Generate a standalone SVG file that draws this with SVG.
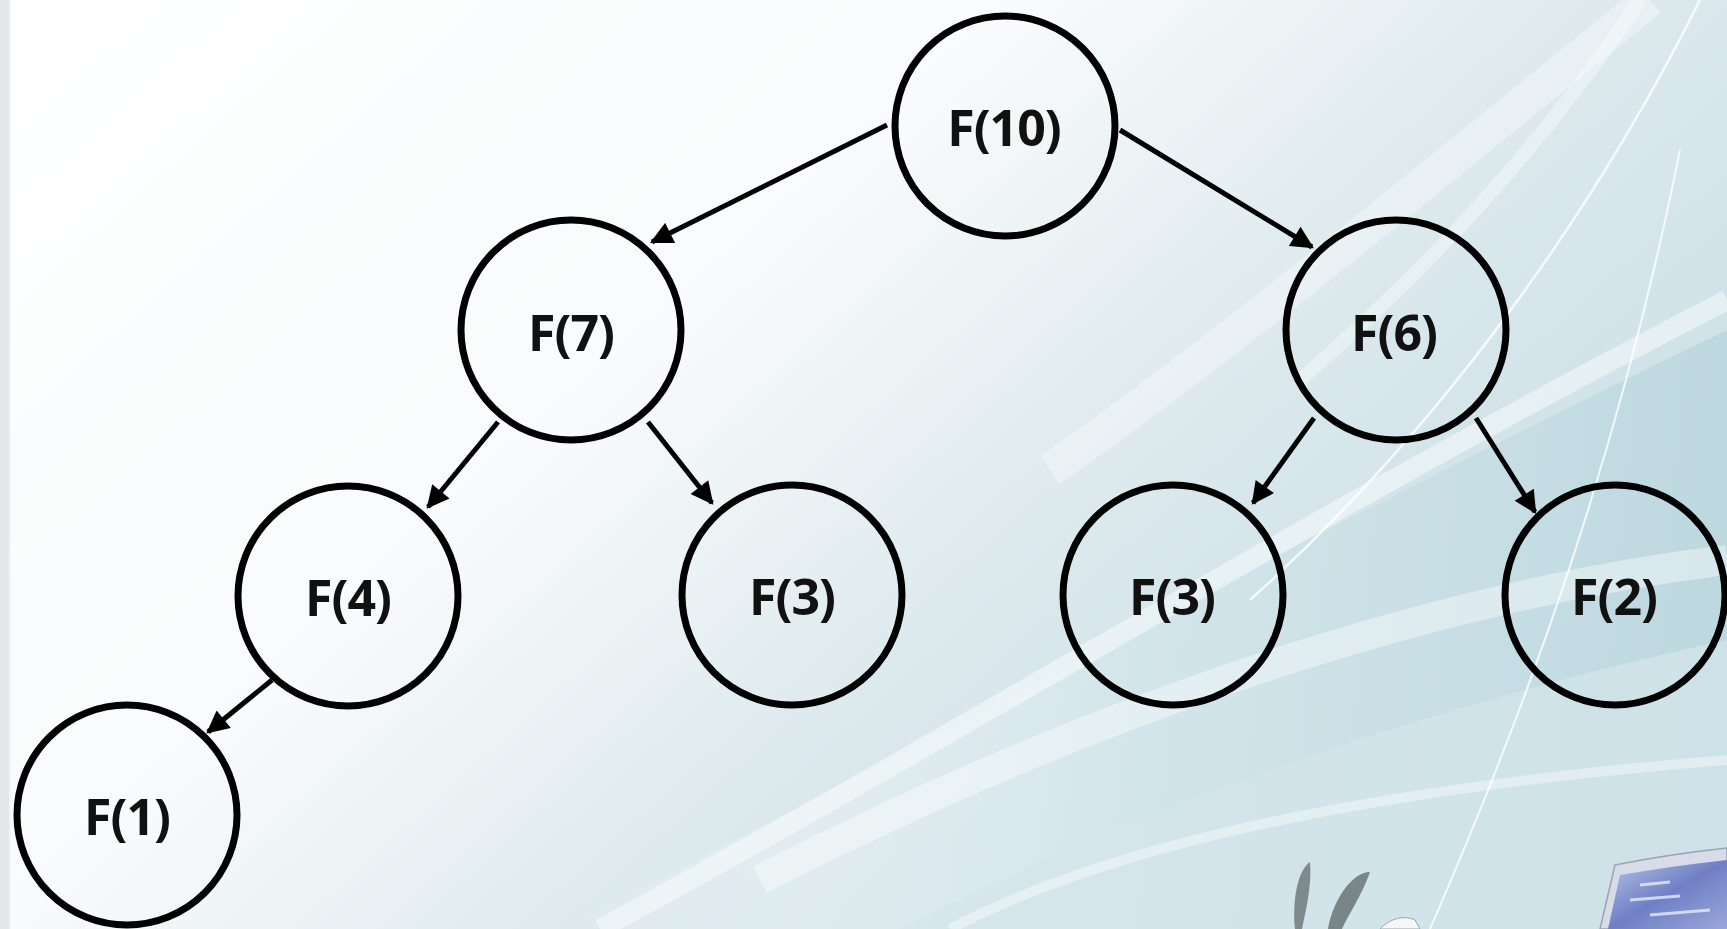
<svg xmlns="http://www.w3.org/2000/svg" width="1727" height="929" viewBox="0 0 1727 929">
  <defs>
    <linearGradient id="bg" x1="0" y1="0" x2="1" y2="0.6">
      <stop offset="0" stop-color="#ffffff"/>
      <stop offset="0.45" stop-color="#f8fafb"/>
      <stop offset="0.7" stop-color="#dce9ed"/>
      <stop offset="1" stop-color="#c9dfe5"/>
    </linearGradient>
    <linearGradient id="band" x1="0" y1="0" x2="1" y2="0">
      <stop offset="0" stop-color="#ffffff" stop-opacity="0"/>
      <stop offset="0.5" stop-color="#d2e5ea" stop-opacity="0.8"/>
      <stop offset="1" stop-color="#bcd7df" stop-opacity="0.9"/>
    </linearGradient>
    <linearGradient id="screen" x1="0" y1="0" x2="1" y2="1">
      <stop offset="0" stop-color="#b8c4ea"/>
      <stop offset="0.5" stop-color="#6f7fc4"/>
      <stop offset="1" stop-color="#9aa8dc"/>
    </linearGradient>
    <marker id="arrow" viewBox="0 0 10 10" refX="9" refY="5" markerWidth="5" markerHeight="4.5" markerUnits="strokeWidth" orient="auto">
      <path d="M0,0 L10,5 L0,10 z" fill="#000"/>
    </marker>
    <style>
      .node circle { fill: none; stroke: #000; stroke-width: 7; }
      .node text { font-family: "Open Sans", Lato, "Liberation Sans", sans-serif; font-weight: 700; font-size: 50px; text-anchor: middle; fill: #111; letter-spacing: -1px; }
      .edge { stroke: #000; stroke-width: 5; fill: none; marker-end: url(#arrow); }
      .swoosh { fill: none; stroke: #ffffff; }
    </style>
  </defs>

  <g id="background">
    <rect x="0" y="0" width="1727" height="929" fill="url(#bg)"/>
    <path d="M560,929 C900,760 1250,560 1727,330 L1727,929 Z" fill="url(#band)"/>
    <path d="M900,929 C1150,800 1450,700 1727,640 L1727,929 Z" fill="#d4e6eb" opacity="0.7"/>
    <path class="swoosh" d="M600,929 C950,740 1300,520 1727,300" stroke-width="20" opacity="0.45"/>
    <path class="swoosh" d="M760,880 C1050,730 1400,600 1727,560" stroke-width="30" opacity="0.4"/>
    <path class="swoosh" d="M1050,470 C1250,330 1450,160 1650,0" stroke-width="34" opacity="0.35"/>
    <path class="swoosh" d="M1250,600 C1450,420 1600,200 1700,0" stroke-width="2.5" opacity="0.8"/>
    <path class="swoosh" d="M1430,929 C1530,700 1620,450 1680,150" stroke-width="2" opacity="0.8"/>
    <path class="swoosh" d="M1300,380 C1450,250 1560,120 1640,0" stroke-width="14" opacity="0.35"/>
    <path class="swoosh" d="M950,929 C1100,850 1350,790 1727,760" stroke-width="10" opacity="0.4"/>
    <rect x="0" y="0" width="9" height="929" fill="#e4e6e8"/>
    <rect x="9" y="0" width="2" height="929" fill="#f3f4f5"/>
    <!-- feathers -->
    <path d="M1295,929 C1292,900 1298,870 1310,862 C1312,885 1306,910 1302,929 Z" fill="#7f8a8c"/>
    <path d="M1328,929 C1333,900 1352,872 1370,872 C1362,895 1348,915 1342,929 Z" fill="#7a8587"/>
    <path d="M1380,929 C1390,918 1405,915 1415,920 L1420,929 Z" fill="#f4f6f7" stroke="#9aa" stroke-width="1"/>
    <!-- laptop -->
    <path d="M1600,929 L1615,865 C1650,858 1690,852 1727,848 L1727,929 Z" fill="#d8dbe8" stroke="#9aa3b8" stroke-width="1.5"/>
    <path d="M1608,929 L1620,875 C1655,869 1690,864 1727,860 L1727,929 Z" fill="url(#screen)"/>
    <path d="M1630,900 L1680,896 M1650,915 L1710,910 M1640,885 L1670,882" stroke="#e6ebf8" stroke-width="3" opacity="0.8"/>
  </g>

  <g id="connectors">
    <line class="edge" x1="887" y1="125" x2="652" y2="242"/>
    <line class="edge" x1="1120" y1="130" x2="1312" y2="247"/>
    <line class="edge" x1="498" y1="422" x2="428" y2="507"/>
    <line class="edge" x1="648" y1="422" x2="712" y2="503"/>
    <line class="edge" x1="1314" y1="418" x2="1253" y2="503"/>
    <line class="edge" x1="1476" y1="418" x2="1535" y2="512"/>
    <line class="edge" x1="272" y1="680" x2="208" y2="732"/>
  </g>

  <g id="n-f10" class="node"><circle cx="1005" cy="126" r="110"/><text x="1004" y="146">F(10)</text></g>
  <g id="n-f7" class="node"><circle cx="571" cy="330" r="110"/><text x="571" y="351">F(7)</text></g>
  <g id="n-f6" class="node"><circle cx="1396" cy="330" r="110"/><text x="1394" y="351">F(6)</text></g>
  <g id="n-f4" class="node"><circle cx="348" cy="596" r="110"/><text x="348" y="616">F(4)</text></g>
  <g id="n-f3a" class="node"><circle cx="792" cy="595" r="110"/><text x="792" y="615">F(3)</text></g>
  <g id="n-f3b" class="node"><circle cx="1173" cy="595" r="110"/><text x="1172" y="615">F(3)</text></g>
  <g id="n-f2" class="node"><circle cx="1615" cy="595" r="110"/><text x="1614" y="615">F(2)</text></g>
  <g id="n-f1" class="node"><circle cx="127" cy="815" r="110"/><text x="127" y="835">F(1)</text></g>
</svg>
